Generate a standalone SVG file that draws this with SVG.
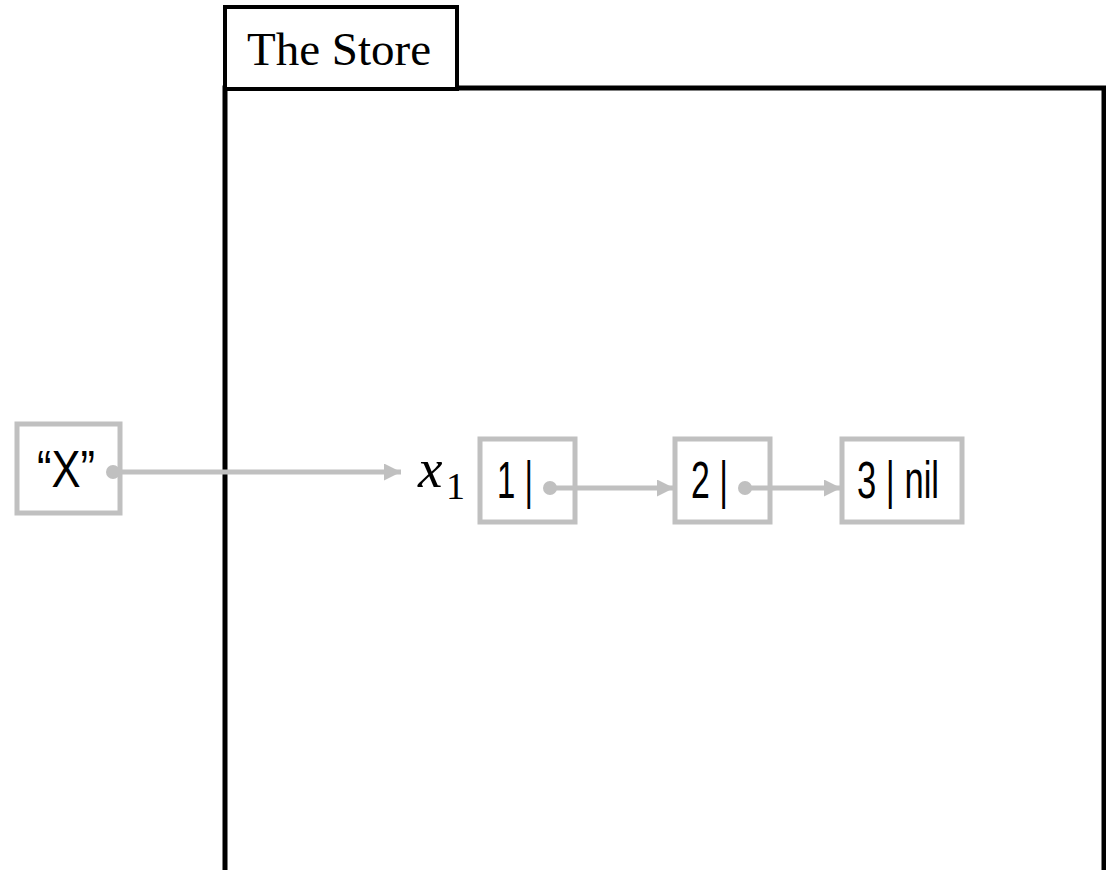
<svg xmlns="http://www.w3.org/2000/svg" width="1106" height="870" viewBox="0 0 1106 870">
<defs>
<style>
.box{fill:#fff;stroke:#c0c0c0;stroke-width:5}
.lbl{font-family:"Liberation Sans",Arial,sans-serif;font-size:51px;fill:#000}
.edge{stroke:#c0c0c0;stroke-width:5;fill:none}
.dot{fill:#c0c0c0}
</style>
<marker id="ah" viewBox="0 0 10 10" refX="10" refY="5" markerWidth="3.4" markerHeight="3.4" markerUnits="strokeWidth" orient="auto">
<path d="M0,0 L10,5 L0,10 z" fill="#c0c0c0"/>
</marker>
</defs>
<rect width="1106" height="870" fill="#fff"/>
<g id="store">
<path d="M225,873 V88 H1104 V873 Z" fill="none" stroke="#000" stroke-width="5"/>
<rect x="225" y="7" width="232" height="82" fill="#fff" stroke="#000" stroke-width="4"/>
<text x="247" y="65" font-family="Liberation Serif,'Times New Roman',serif" font-size="47" fill="#000">The Store</text>
</g>
<g id="x1label">
<text x="418" y="487" font-family="Liberation Serif,'Times New Roman',serif" font-size="55" font-style="italic" fill="#000">x</text>
<text x="446" y="499" font-family="Liberation Serif,'Times New Roman',serif" font-size="38" fill="#000">1</text>
</g>
<g id="nodeX">
<rect class="box" x="17" y="424" width="103" height="89"/>
<text class="lbl" x="37" y="487" textLength="58" lengthAdjust="spacingAndGlyphs">“X”</text>
</g>
<g id="node1">
<rect class="box" x="480" y="439" width="95" height="83"/>
<text class="lbl" x="497" y="498" textLength="36" lengthAdjust="spacingAndGlyphs">1 |</text>
</g>
<g id="node2">
<rect class="box" x="675" y="439" width="95" height="83"/>
<text class="lbl" x="691" y="498" textLength="37" lengthAdjust="spacingAndGlyphs">2 |</text>
</g>
<g id="node3">
<rect class="box" x="842" y="439" width="120" height="83"/>
<text class="lbl" x="857" y="498" textLength="82" lengthAdjust="spacingAndGlyphs">3 | nil</text>
</g>
<g id="connectors">
<circle class="dot" cx="113" cy="472" r="7"/>
<line class="edge" x1="113" y1="472" x2="401" y2="472" marker-end="url(#ah)"/>
<circle class="dot" cx="550" cy="488" r="7"/>
<line class="edge" x1="550" y1="488" x2="674" y2="488" marker-end="url(#ah)"/>
<circle class="dot" cx="745" cy="488" r="7"/>
<line class="edge" x1="745" y1="488" x2="841" y2="488" marker-end="url(#ah)"/>
</g>
</svg>
